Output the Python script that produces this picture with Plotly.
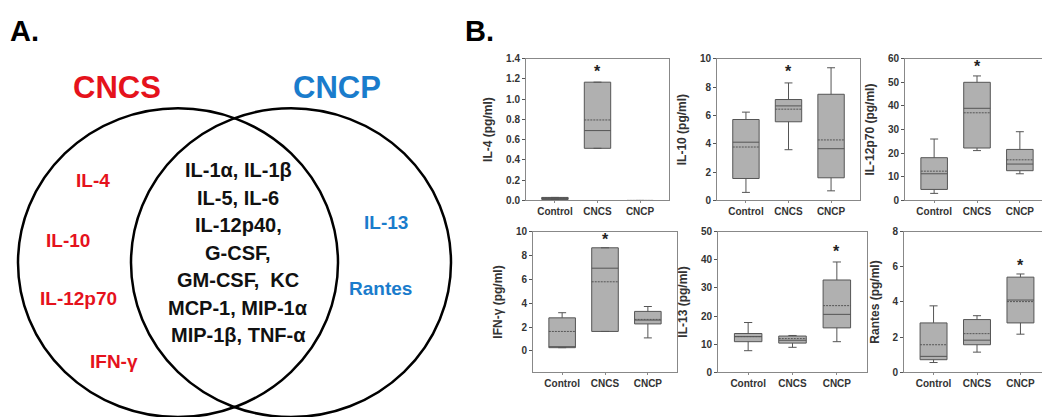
import plotly.graph_objects as go

W, H = 1050, 417

# ---------------- data ----------------
groups = ["Control", "CNCS", "CNCP"]

panel_titles = ["IL-4 (pg/ml)", "IL-10 (pg/ml)", "IL-12p70 (pg/ml)",
                "IFN-γ (pg/ml)", "IL-13 (pg/ml)", "Rantes (pg/ml)"]

il4_q1 = [0.01, 0.515, 0.0]
il4_med = [0.02, 0.69, 0.0]
il4_q3 = [0.03, 1.168, 0.0]
il4_lo = [0.01, 0.515, 0.0]
il4_hi = [0.03, 1.168, 0.0]
il4_mean = [0.025, 0.795, 0.0]

il10_q1 = [1.55, 5.55, 1.6]
il10_med = [4.11, 6.67, 3.65]
il10_q3 = [5.71, 7.12, 7.49]
il10_lo = [0.57, 3.58, 0.68]
il10_hi = [6.23, 8.29, 9.36]
il10_mean = [3.77, 6.44, 4.27]

il12_q1 = [4.67, 22.2, 12.6]
il12_med = [11.3, 39.0, 15.4]
il12_q3 = [18.1, 50.0, 21.6]
il12_lo = [3.0, 21.1, 11.3]
il12_hi = [26.0, 52.7, 29.1]
il12_mean = [12.4, 37.1, 17.2]

ifn_q1 = [0.27, 1.63, 2.26]
ifn_med = [0.3, 6.93, 2.58]
ifn_q3 = [2.77, 8.64, 3.31]
ifn_lo = [0.27, 1.63, 1.09]
ifn_hi = [3.2, 8.64, 3.72]
ifn_mean = [1.63, 5.79, 2.64]

il13_q1 = [10.9, 10.4, 15.8]
il13_med = [12.7, 11.4, 20.6]
il13_q3 = [13.8, 12.9, 32.8]
il13_lo = [7.7, 8.9, 10.9]
il13_hi = [17.7, 13.1, 39.2]
il13_mean = [12.7, 12.0, 23.7]

ran_q1 = [0.72, 1.57, 2.81]
ran_med = [0.91, 1.83, 4.11]
ran_q3 = [2.81, 3.0, 5.41]
ran_lo = [0.56, 1.15, 2.17]
ran_hi = [3.78, 3.22, 5.59]
ran_mean = [1.57, 2.2, 4.02]

star_group = ["CNCS", "CNCS", "CNCS", "CNCS", "CNCP", "CNCP"]
star_y = [1.27, 9.1, 56.6, 9.3, 43.0, 6.1]

y_ranges = [[0, 1.4], [0, 10], [0, 60], [-1.8, 10], [0, 50], [0, 8]]
y_dticks = [0.2, 2, 10, 2, 10, 2]
y_formats = [".1f", "d", "d", "d", "d", "d"]

venn_left_only = ["IL-4", "IL-10", "IL-12p70", "IFN-γ"]
venn_shared = ["IL-1α, IL-1β", "IL-5, IL-6", "IL-12p40,", "G-CSF,",
               "GM-CSF,  KC", "MCP-1, MIP-1α", "MIP-1β, TNF-α"]
venn_right_only = ["IL-13", "Rantes"]

stats = [
    (il4_q1, il4_med, il4_q3, il4_lo, il4_hi, il4_mean),
    (il10_q1, il10_med, il10_q3, il10_lo, il10_hi, il10_mean),
    (il12_q1, il12_med, il12_q3, il12_lo, il12_hi, il12_mean),
    (ifn_q1, ifn_med, ifn_q3, ifn_lo, ifn_hi, ifn_mean),
    (il13_q1, il13_med, il13_q3, il13_lo, il13_hi, il13_mean),
    (ran_q1, ran_med, ran_q3, ran_lo, ran_hi, ran_mean),
]

# ---------------- layout geometry (pixels) ----------------
def px_x(p):
    return p / W

def px_y(p):
    return 1 - p / H

x_dom_px = [(518, 661), (709, 852), (897, 1041), (525, 669), (710, 859), (896, 1042)]
y_dom_px = [(46, 192)] * 3 + [(224, 369)] * 3

RED = "#e5121c"
BLUE = "#1a7ccc"
FONT = "Liberation Sans, Arial, sans-serif"

fig = go.Figure()
layout = dict(
    width=W, height=H,
    margin=dict(l=0, r=0, t=0, b=0),
    paper_bgcolor="white", plot_bgcolor="white",
    showlegend=False, hovermode=False,
    font=dict(family=FONT, color="#333333"),
)

annotations = []
for i in range(6):
    ax = "" if i == 0 else str(i + 1)
    q1, med, q3, lo, hi, mean = stats[i]
    fig.add_trace(go.Box(
        x=groups, q1=q1, median=med, q3=q3,
        lowerfence=lo, upperfence=hi, mean=mean,
        boxmean=True, boxpoints=False,
        fillcolor="#b0b0b0",
        line=dict(color="#555555", width=1),
        whiskerwidth=0.3, width=0.62,
        xaxis="x" + ax, yaxis="y" + ax,
    ))
    x0, x1 = x_dom_px[i]
    y0, y1 = y_dom_px[i]
    layout["xaxis" + ax] = dict(
        domain=[px_x(x0), px_x(x1)], anchor="y" + ax,
        type="category", categoryorder="array", categoryarray=groups,
        range=[-0.68, 2.68],
        showline=True, linecolor="#888888", linewidth=1, mirror=True,
        ticks="outside", ticklen=2, tickcolor="#888888",
        tickfont=dict(size=10, weight="bold", color="#333333"),
        showgrid=False, zeroline=False, fixedrange=True,
    )
    layout["yaxis" + ax] = dict(
        domain=[px_y(y1), px_y(y0)], anchor="x" + ax,
        range=y_ranges[i], dtick=y_dticks[i], tick0=0, tickformat=y_formats[i],
        showline=True, linecolor="#888888", linewidth=1, mirror=True,
        ticks="outside", ticklen=3, tickcolor="#555555",
        tickfont=dict(size=10, weight="bold", color="#333333"),
        title=dict(text=panel_titles[i], font=dict(size=12, weight="bold", color="#333333"), standoff=10),
        showgrid=False, zeroline=False, fixedrange=True,
    )
    annotations.append(dict(
        x=star_group[i], y=star_y[i], xref="x" + ax, yref="y" + ax,
        text="*", showarrow=False, font=dict(size=16, color="#222222", weight="bold"),
        yanchor="middle",
    ))

# ---------------- Venn diagram (panel A) ----------------
shapes = []
for cx in (170, 283):
    shapes.append(dict(
        type="circle", xref="paper", yref="paper",
        x0=px_x(cx - 160), x1=px_x(cx + 160),
        y0=px_y(415), y1=px_y(97),
        line=dict(color="black", width=2.5),
    ))

def add_text(txt, xp, yp, size, color, anchor="center"):
    annotations.append(dict(
        x=px_x(xp), y=px_y(yp), xref="paper", yref="paper",
        text=txt, showarrow=False, xanchor=anchor, yanchor="middle",
        font=dict(family=FONT, size=size, color=color, weight="bold"),
    ))

add_text("A.", 0, 17, 29, "black", anchor="left")
add_text("B.", 455, 17, 29, "black", anchor="left")
add_text("CNCS", 109, 76, 31, RED)
add_text("CNCP", 329, 76, 31, BLUE)

left_pos = [(85, 171), (60, 233), (70, 293), (106, 358)]
for t, (xp, yp) in zip(venn_left_only, left_pos):
    add_text(t, xp, yp, 19, RED)

for k, t in enumerate(venn_shared):
    add_text(t, 230, 161 + k * 28.3, 20, "#111111")

right_pos = [(378, 215), (372, 283)]
for t, (xp, yp) in zip(venn_right_only, right_pos):
    add_text(t, xp, yp, 19, BLUE)

layout["shapes"] = shapes
layout["annotations"] = annotations
fig.update_layout(**layout)

fig.write_html("out.html", config={"displayModeBar": False})
